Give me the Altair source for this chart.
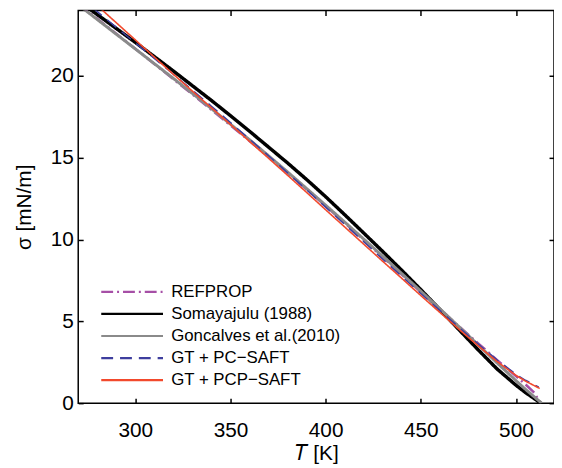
import altair as alt
import pandas as pd

# Temperature grid (K) and surface tension (mN/m)
T_refprop = [270, 280, 290, 300, 310, 320, 330, 340, 350, 360, 370, 380, 390, 400, 410, 420, 430, 440, 450, 460, 470, 480, 490, 500, 505, 510, 512.6]
S_refprop = [24.4, 23.5, 22.58, 21.66, 20.73, 19.8, 18.87, 17.93, 16.98, 16.02, 15.05, 14.07, 13.07, 12.05, 11.02, 9.97, 8.92, 7.86, 6.8, 5.75, 4.7, 3.67, 2.65, 1.65, 1.15, 0.6, 0.0]

T_soma = [270, 280, 290, 300, 310, 320, 330, 340, 350, 360, 370, 380, 390, 400, 410, 420, 430, 440, 450, 460, 470, 480, 490, 500, 505, 510, 513]
S_soma = [24.6, 23.75, 22.9, 22.05, 21.18, 20.3, 19.4, 18.5, 17.57, 16.62, 15.65, 14.68, 13.67, 12.62, 11.52, 10.4, 9.27, 8.12, 6.94, 5.73, 4.5, 3.28, 2.1, 1.1, 0.65, 0.25, 0.0]

T_gonc = [270, 280, 290, 300, 310, 320, 330, 340, 350, 360, 370, 380, 390, 400, 410, 420, 430, 440, 450, 460, 470, 480, 490, 500, 505, 510, 513.5]
S_gonc = [24.35, 23.45, 22.55, 21.65, 20.75, 19.85, 18.93, 18.0, 17.05, 16.1, 15.12, 14.13, 13.12, 12.1, 11.07, 10.03, 8.98, 7.92, 6.85, 5.77, 4.68, 3.58, 2.47, 1.38, 0.85, 0.35, 0.0]

T_pc = [270, 280, 290, 300, 310, 320, 330, 340, 350, 360, 370, 380, 390, 400, 410, 420, 430, 440, 450, 460, 470, 480, 490, 500, 505, 510, 512]
S_pc = [24.9, 23.93, 22.97, 22.02, 21.07, 20.1, 19.13, 18.15, 17.15, 16.14, 15.12, 14.08, 13.04, 11.98, 10.93, 9.87, 8.8, 7.75, 6.7, 5.67, 4.64, 3.63, 2.65, 1.77, 1.4, 1.1, 0.98]

T_pcp = [270, 280, 290, 300, 310, 320, 330, 340, 350, 360, 370, 380, 390, 400, 410, 420, 430, 440, 450, 460, 470, 480, 490, 500, 505, 510, 512.5]
S_pcp = [25.35, 24.3, 23.25, 22.2, 21.15, 20.1, 19.07, 18.05, 17.03, 16.0, 14.97, 13.93, 12.88, 11.82, 10.77, 9.72, 8.67, 7.63, 6.58, 5.55, 4.52, 3.52, 2.55, 1.7, 1.35, 1.05, 0.9]

series_names = ["REFPROP", "Somayajulu (1988)", "Goncalves et al.(2010)", "GT + PC\u2212SAFT", "GT + PCP\u2212SAFT"]
series_colors = ["#A64FA6", "#000000", "#8A8A8A", "#3E3E9E", "#F2492C"]
series_dash = [[12, 4, 2, 4], [1, 0], [1, 0], [12, 7], [1, 0]]
series_width = [2.5, 3.5, 3.0, 1.5, 1.6]

x_ticks = [300, 350, 400, 450, 500]
y_ticks = [0, 5, 10, 15, 20]

rows = []
for name, Ts, Ss in zip(series_names,
                        [T_refprop, T_soma, T_gonc, T_pc, T_pcp],
                        [S_refprop, S_soma, S_gonc, S_pc, S_pcp]):
    for t, s in zip(Ts, Ss):
        rows.append({"series": name, "T": t, "s": s})
df = pd.DataFrame(rows)

W, H = 481, 397
FONT = "Liberation Sans"

xs = alt.Scale(domain=[270, 520], nice=False, zero=False)
ys = alt.Scale(domain=[0, 24], nice=False, zero=False)

enc_common = dict(
    color=alt.Color("series:N", scale=alt.Scale(domain=series_names, range=series_colors), title=None),
    strokeDash=alt.StrokeDash("series:N", scale=alt.Scale(domain=series_names, range=series_dash), title=None),
)

main_x = alt.Axis(values=x_ticks, ticks=False, domain=False, grid=False, labelFontSize=21,
                  labelFont=FONT, labelColor="black", labelPadding=17, title="\U0001D447 [K]",
                  titleFont=FONT, titleFontSize=21, titleFontWeight="normal", titleColor="black",
                  titlePadding=2, format="d")
main_y = alt.Axis(values=y_ticks, ticks=False, domain=False, grid=False, labelFontSize=21,
                  labelFont=FONT, labelColor="black", labelPadding=5, title="\u03c3 [mN/m]",
                  titleFont=FONT, titleFontSize=21, titleFontWeight="normal", titleColor="black",
                  titlePadding=16, format="d")

def tick_axis(orient, offset, values):
    return alt.Axis(orient=orient, offset=offset, values=values, labels=False, ticks=True,
                    tickSize=5, tickWidth=1.5, tickColor="black", domain=False, grid=False, title=None)

axes = [
    (main_x, main_y),
    (tick_axis("top", -H, x_ticks), tick_axis("right", -W, y_ticks)),
    (tick_axis("bottom", -H, x_ticks), tick_axis("left", -W, y_ticks)),
    (None, None),
    (None, None),
]

layers = []
for i, name in enumerate(series_names):
    ax_x, ax_y = axes[i]
    layers.append(
        alt.Chart(df)
        .transform_filter(alt.datum.series == name)
        .mark_line(clip=True, strokeWidth=series_width[i])
        .encode(
            x=alt.X("T:Q", scale=xs, axis=ax_x),
            y=alt.Y("s:Q", scale=ys, axis=ax_y),
            **enc_common,
        )
    )

chart = (
    alt.layer(*layers)
    .resolve_axis(x="independent", y="independent")
    .properties(width=W, height=H, autosize=alt.AutoSizeParams(type="none"),
                padding={"left": 71, "top": 0, "right": 0, "bottom": 60})
    .configure_view(stroke="black", strokeWidth=1.5)
    .configure_legend(orient="none", legendX=22, legendY=276, padding=0,
                      symbolType="stroke", symbolSize=3900, symbolStrokeWidth=2.2,
                      clipHeight=17, rowPadding=4.3,
                      labelFont=FONT, labelFontSize=17, labelColor="black", labelOffset=7,
                      labelLimit=300, symbolOffset=0)
)

chart.save("out.html", embed_options={"renderer": "svg", "actions": False})
